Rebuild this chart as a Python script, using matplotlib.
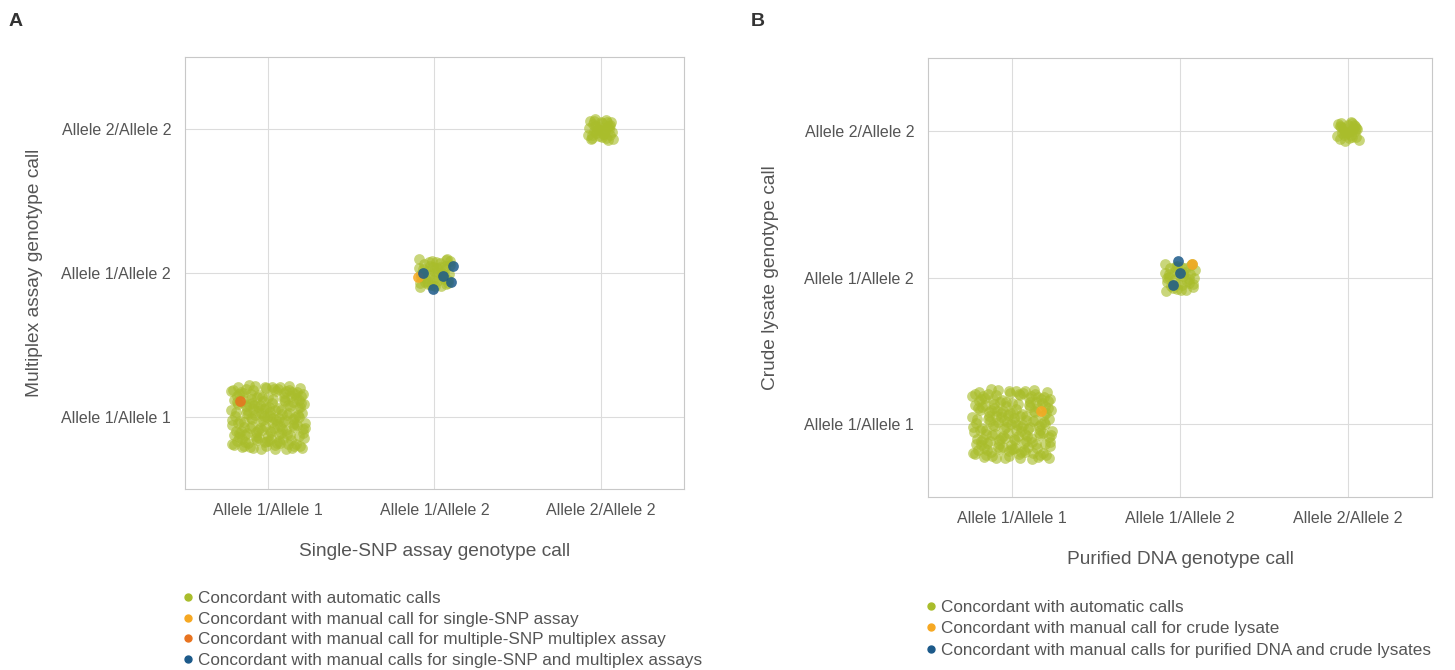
import numpy as np
import matplotlib.pyplot as plt
from matplotlib.lines import Line2D

# genotype categories (shared by both axes)
genotypes = ['Allele 1/Allele 1', 'Allele 1/Allele 2', 'Allele 2/Allele 2']

# panel A: samples per concordant genotype cluster (automatic calls)
counts_a = [175, 45, 35]
# manual calls in panel A: (x genotype index, y genotype index)
single_a_x = [0.90]
single_a_y = [0.97]
multi_a_x = [-0.17]
multi_a_y = [0.11]
both_a_x = [0.93, 1.11, 1.05, 1.10, 0.99]
both_a_y = [1.00, 1.05, 0.98, 0.94, 0.89]

# panel B
counts_b = [175, 36, 28]
crude_b_x = [0.17, 1.07]
crude_b_y = [0.09, 1.09]
both_b_x = [0.99, 1.00, 0.96]
both_b_y = [1.11, 1.03, 0.95]

GREEN = '#a9bd2b'
YELLOW = '#f6a822'
ORANGE = '#e8731f'
BLUE = '#1c5a8a'
TXT = '#555555'

plt.rcParams['font.family'] = ['Liberation Sans', 'DejaVu Sans']


def halton(i, base):
    f, r = 1.0, 0.0
    while i > 0:
        f /= base
        r += f * (i % base)
        i //= base
    return r


def cluster(n, half, start):
    # spread jitter inside a square around the genotype position
    u = np.array([halton(start + k, 2) for k in range(n)])
    v = np.array([halton(start + k, 5) for k in range(n)])
    return (u * 2 - 1) * half, (v * 2 - 1) * half


def style(ax, xlabel, ylabel, ypad):
    ax.set_xlim(-0.5, 2.5)
    ax.set_ylim(-0.5, 2.5)
    ax.set_xticks(range(3))
    ax.set_yticks(range(3))
    ax.set_xticklabels(genotypes, fontsize=11.5, color=TXT)
    ax.set_yticklabels(genotypes, fontsize=11.5, color=TXT)
    ax.tick_params(length=0, pad=10)
    ax.grid(True, color='#dcdcdc', lw=0.8)
    ax.set_axisbelow(True)
    for s in ax.spines.values():
        s.set_color('#c8c8c8')
        s.set_linewidth(0.8)
    ax.set_xlabel(xlabel, fontsize=13.8, color=TXT, labelpad=18)
    ax.set_ylabel(ylabel, fontsize=13.8, color=TXT, labelpad=ypad)


fig = plt.figure(figsize=(14.55, 6.70), dpi=100)
axA = fig.add_axes([0.1271, 0.2701, 0.343, 0.6448])
axB = fig.add_axes([0.6378, 0.2582, 0.3464, 0.6552])

ms = 60
halves_a = [0.225, 0.10, 0.075]
halves_b = [0.24, 0.095, 0.065]

for ax, counts, halves in [(axA, counts_a, halves_a), (axB, counts_b, halves_b)]:
    st = 17
    for g, (n, h) in enumerate(zip(counts, halves)):
        dx, dy = cluster(n, h, st)
        st += n + 7
        ax.scatter(g + dx, g + dy, s=ms, color=GREEN, alpha=0.62, lw=0, zorder=2)

axA.scatter(single_a_x, single_a_y, s=ms, color=YELLOW, alpha=0.85, lw=0, zorder=3)
axA.scatter(multi_a_x, multi_a_y, s=ms, color=ORANGE, alpha=0.85, lw=0, zorder=3)
axA.scatter(both_a_x, both_a_y, s=ms, color=BLUE, alpha=0.85, lw=0, zorder=3)
axB.scatter(crude_b_x, crude_b_y, s=ms, color=YELLOW, alpha=0.85, lw=0, zorder=3)
axB.scatter(both_b_x, both_b_y, s=ms, color=BLUE, alpha=0.85, lw=0, zorder=3)

style(axA, 'Single-SNP assay genotype call', 'Multiplex assay genotype call', 13.5)
style(axB, 'Purified DNA genotype call', 'Crude lysate genotype call', 18)

fig.text(0.006, 0.968, 'A', fontsize=14, fontweight='bold', color='#333333', va='center')
fig.text(0.516, 0.968, 'B', fontsize=14, fontweight='bold', color='#333333', va='center')


def dot(c):
    return Line2D([], [], marker='o', ls='none', color=c, markersize=5)


legA = fig.legend([dot(GREEN), dot(YELLOW), dot(ORANGE), dot(BLUE)],
                  ['Concordant with automatic calls',
                   'Concordant with manual call for single-SNP assay',
                   'Concordant with manual call for multiple-SNP multiplex assay',
                   'Concordant with manual calls for single-SNP and multiplex assays'],
                  loc='upper left', bbox_to_anchor=(0.123, 0.118), frameon=False,
                  fontsize=12.3, labelspacing=0.33, handletextpad=0.1, handlelength=1.0,
                  borderpad=0, borderaxespad=0)
for t in legA.get_texts():
    t.set_color(TXT)

legB = fig.legend([dot(GREEN), dot(YELLOW), dot(BLUE)],
                  ['Concordant with automatic calls',
                   'Concordant with manual call for crude lysate',
                   'Concordant with manual calls for purified DNA and crude lysates'],
                  loc='upper left', bbox_to_anchor=(0.634, 0.105), frameon=False,
                  fontsize=12.3, labelspacing=0.38, handletextpad=0.1, handlelength=1.0,
                  borderpad=0, borderaxespad=0)
for t in legB.get_texts():
    t.set_color(TXT)

fig.savefig('out.png', dpi=100)
